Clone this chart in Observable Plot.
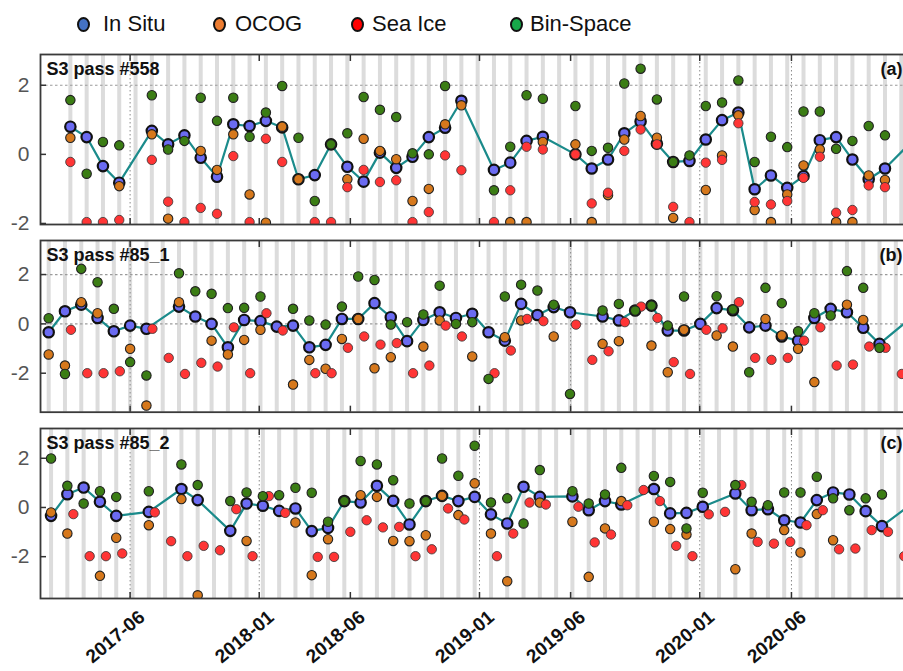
<!DOCTYPE html>
<html><head><meta charset="utf-8">
<script src="https://cdn.jsdelivr.net/npm/d3@7"></script>
<script src="https://cdn.jsdelivr.net/npm/@observablehq/plot@0.6"></script>
<style>
html,body{margin:0;padding:0;background:#fff;overflow:hidden;width:903px;height:671px;}
#wrap{position:relative;width:903px;height:671px;overflow:hidden;font-family:"Liberation Sans",Arial,sans-serif;}
.panel{position:absolute;left:0;width:920px;}
.panel svg{max-width:none !important;}
.lgm{position:absolute;top:17px;width:9px;height:11px;border:2.5px solid #111;border-radius:50%;}
.lgt{position:absolute;top:10px;font-size:22px;line-height:28px;color:#111;white-space:nowrap;}
</style></head><body><div id="wrap"></div>
<script>
// ---------- data ----------
const seriesNames = ["In Situ", "OCOG", "Sea Ice", "Bin-Space"];
const xTicks = ["2017-06-01","2018-01-01","2018-06-01","2019-01-01","2019-06-01","2020-01-01","2020-06-01"];
const xTickLabels = ["2017-06","2018-01","2018-06","2019-01","2019-06","2020-01","2020-06"];
const yTicks = [-2, 0, 2];

// pass #558 dates
const datesA = ["2017-02-22","2017-03-21","2017-04-17","2017-05-14","2017-06-10","2017-07-07","2017-08-03","2017-08-30","2017-09-26","2017-10-23",
"2017-11-19","2017-12-16","2018-01-12","2018-02-08","2018-03-07","2018-04-03","2018-04-30","2018-05-27","2018-06-23","2018-07-20",
"2018-08-16","2018-09-12","2018-10-09","2018-11-05","2018-12-02","2018-12-29","2019-01-25","2019-02-21","2019-03-20","2019-04-16",
"2019-05-13","2019-06-09","2019-07-06","2019-08-02","2019-08-29","2019-09-25","2019-10-22","2019-11-18","2019-12-15","2020-01-11",
"2020-02-07","2020-03-05","2020-04-01","2020-04-28","2020-05-25","2020-06-21","2020-07-18","2020-08-14","2020-09-10","2020-10-07",
"2020-11-03","2020-11-30","2020-12-27"];
const insituA = [0.80,0.50,-0.34,-0.82,null,0.68,0.29,0.55,-0.10,-0.65,
0.87,0.82,0.97,0.78,-0.72,-0.60,0.29,-0.36,-0.79,0.05,
-0.39,-0.07,0.50,0.77,1.55,null,-0.45,-0.24,0.39,0.51,
null,0.00,-0.41,-0.15,0.61,0.95,0.31,-0.22,-0.19,0.43,
0.99,1.21,-1.01,-0.61,-0.97,-0.63,0.41,0.50,-0.15,-0.72,
-0.41,null,0.54];
const ocogA = [0.48,null,null,-0.92,null,0.58,-1.86,null,0.10,-0.45,
0.58,-1.16,-1.98,0.80,-0.72,null,null,-0.72,0.45,0.10,
-0.14,-1.35,-1.00,0.87,1.42,null,null,-1.96,-1.96,0.36,
null,0.29,-1.96,-1.18,0.43,1.11,0.48,-1.84,null,-1.03,
-0.03,1.13,-1.61,-1.96,-1.16,-0.32,0.14,-1.96,-1.96,-0.61,
-0.74,null,null];
const seaiceA = [-0.22,-1.96,-1.96,-1.90,null,-0.16,-1.37,-1.96,-1.55,-1.72,
-0.05,-1.96,0.45,-0.22,null,-1.96,-1.96,-0.95,-0.45,-0.80,
-0.75,-1.96,-1.67,-0.03,-0.46,null,-1.96,-1.04,0.22,0.14,
null,0.00,-1.42,-1.11,0.10,0.72,0.29,-1.52,-1.96,-0.24,
-0.16,0.90,-1.38,-1.45,-1.35,-0.68,-0.07,-1.69,-1.61,-0.90,
-0.95,null,null];
const binA = [1.57,-0.56,0.36,0.26,null,1.71,0.14,0.39,1.64,0.97,
1.64,0.51,1.21,1.98,0.48,-1.35,0.29,0.61,1.66,1.29,
1.08,0.03,0.00,1.98,null,null,-1.04,0.22,1.71,1.61,
null,1.40,0.10,0.19,2.05,2.48,1.59,-0.22,-0.03,1.40,
1.50,2.14,-0.22,0.51,0.21,1.24,1.24,0.16,0.39,0.82,
0.55,null,null];

// pass #85 dates
const dates85 = ["2017-01-17","2017-02-13","2017-03-12","2017-04-08","2017-05-05","2017-06-01","2017-06-28","2017-07-25","2017-08-21","2017-09-17",
"2017-10-14","2017-11-10","2017-12-07","2018-01-03","2018-01-30","2018-02-26","2018-03-25","2018-04-21","2018-05-18","2018-06-14",
"2018-07-11","2018-08-07","2018-09-03","2018-09-30","2018-10-27","2018-11-23","2018-12-20","2019-01-16","2019-02-12","2019-03-11",
"2019-04-07","2019-05-04","2019-05-31","2019-06-27","2019-07-24","2019-08-20","2019-09-16","2019-10-13","2019-11-09","2019-12-06",
"2020-01-02","2020-01-29","2020-02-25","2020-03-23","2020-04-19","2020-05-16","2020-06-12","2020-07-09","2020-08-05","2020-09-01",
"2020-09-28","2020-10-25","2020-11-21","2020-12-18"];
const pass85_2ShiftDays = 4;
const insituB = [-0.34,0.51,0.78,0.24,-0.30,-0.07,-0.20,null,0.70,0.30,
0.00,-0.95,0.16,0.11,-0.11,-0.07,-0.95,-0.85,0.20,0.20,
0.84,0.27,-0.70,0.16,0.47,0.24,0.41,-0.34,-0.68,0.81,
0.36,0.68,0.47,null,0.30,0.14,0.54,0.74,-0.27,-0.27,
0.00,0.64,0.55,-0.14,-0.07,-0.51,-0.68,0.24,0.61,0.47,
-0.16,-0.81,null,0.28];
const ocogB = [-1.24,-1.69,0.88,0.43,null,-1.01,-3.31,null,0.88,null,
-0.68,-1.24,-0.65,-0.24,null,-2.46,-1.46,-1.82,-0.61,0.20,
-1.80,-1.35,null,-0.92,0.14,null,-1.32,null,-0.54,0.14,
null,-0.51,null,null,-0.81,-0.70,null,-0.88,-1.96,-0.24,
null,-0.47,-0.92,null,0.20,-0.47,-1.01,-2.36,null,0.78,
0.16,null,null,null];
const seaiceB = [null,-0.24,-2.00,-2.00,-1.92,null,-0.20,-1.38,-2.03,-1.58,
-1.73,-0.14,-2.00,0.43,-0.27,null,-2.00,-2.00,-0.97,-0.51,
-0.84,-0.78,-2.00,-1.69,-0.07,-0.51,null,-2.00,-1.08,0.20,
0.11,null,-0.03,-1.46,-1.11,0.07,0.70,0.24,-1.55,-2.03,
-0.24,-0.18,0.88,-1.38,-1.46,-1.38,-0.68,-0.14,-1.69,-1.65,
-0.92,-0.97,-2.03,null];
const binB = [0.23,-2.03,2.23,1.69,0.61,-1.55,-2.09,null,2.05,1.32,
1.22,0.64,0.65,1.11,null,0.61,0.14,-0.03,0.70,1.92,
1.78,-0.03,0.07,0.38,1.55,0.00,0.07,-2.23,1.11,1.59,
1.35,0.78,-2.84,null,0.54,0.81,0.54,0.74,-0.07,1.11,
null,1.12,0.58,-1.96,1.46,0.84,-0.30,0.43,0.34,2.14,
1.46,-0.97,null,null];

const insituC = [-0.34,0.54,0.81,0.23,-0.34,null,-0.18,null,0.75,0.30,
null,-0.95,0.16,0.07,-0.14,-0.04,-0.96,-0.83,0.26,0.20,
0.88,0.27,-0.69,0.26,0.47,0.26,0.43,-0.28,-0.65,0.84,
0.43,null,0.45,-0.11,0.26,0.12,null,0.75,-0.24,-0.22,
0.03,null,0.57,-0.11,-0.07,-0.52,-0.61,0.30,0.61,0.53,
-0.15,-0.76,null,0.24];
const ocogC = [-0.20,-1.06,null,-2.78,-1.23,null,-0.72,null,0.34,-3.57,
null,null,-1.36,null,null,-0.61,-2.75,-1.29,null,0.50,
0.43,-1.36,-1.37,-1.13,0.47,-0.31,0.98,-1.06,-3.00,null,
0.20,null,-0.58,-2.82,-0.85,0.26,null,-0.58,-0.88,-1.10,
null,null,-2.51,-1.06,null,-0.92,-1.83,-0.27,-1.33,null,
null,null,null,null];
const seaiceC = [null,-0.27,-1.98,-1.98,-1.87,null,-0.20,-1.37,-1.98,-1.56,
-1.74,-0.07,-1.98,0.46,-0.22,null,-2.01,-2.01,-0.99,-0.52,
-0.81,-0.79,-1.98,-1.70,-0.04,-0.49,null,-1.98,-1.06,0.20,
0.12,null,0.03,-1.42,-1.10,0.09,0.71,0.26,-1.56,-1.98,
-0.28,-0.18,0.91,-1.40,-1.47,-1.40,-0.72,-0.11,-1.70,-1.67,
-0.92,-0.99,-1.98,null];
const binC = [1.99,0.88,0.16,0.66,0.43,null,0.66,null,1.75,0.91,
null,0.26,0.61,0.46,0.50,0.80,0.60,-0.58,0.26,1.89,
1.75,1.11,0.16,0.26,1.99,1.29,2.51,0.20,0.37,-0.65,
1.52,null,0.66,0.16,0.53,1.61,null,1.28,1.04,-0.85,
0.60,null,0.91,0.23,0.09,0.61,0.61,1.25,0.37,-0.11,
0.37,0.53,null,null];

// ---------- styling ----------
const chartColors = {insitu:"#6b6bf2", ocog:"#d6781c", seaice:"#ff3535", bin:"#3b7d14"};
const legendColors = ["#4472c4", "#ed7d31", "#ff0000", "#18a84a"];
const legendMarkerX = [84, 220, 358, 517];
const legendTextX = [103, 235, 372, 530];
const FONT = "Liberation Sans, Arial, sans-serif";
const xDomain = [new Date("2017-01-03T12:00:00Z"), new Date("2020-12-18T14:24:00Z")];
const tickLabelMap = new Map(xTicks.map((d, i) => [+new Date(d), xTickLabels[i]]));

const wrap = document.getElementById("wrap");

// legend
seriesNames.forEach((name, i) => {
  const m = document.createElement("div");
  m.className = "lgm";
  m.style.left = (legendMarkerX[i] - 7) + "px";
  m.style.background = legendColors[i];
  wrap.appendChild(m);
  const t = document.createElement("div");
  t.className = "lgt";
  t.style.left = legendTextX[i] + "px";
  t.textContent = name;
  wrap.appendChild(t);
});

function panel(cfg) {
  const {dates, insitu, ocog, seaice, bin, yDomain, title, tag, top, frameH, vgrid, hgrid, seaDx, labels} = cfg;
  const rows = dates.map((d, i) => ({date: d, insitu: insitu[i], ocog: ocog[i], seaice: seaice[i], bin: bin[i]}));
  const has = k => rows.filter(r => r[k] != null);
  const mt = 6, mb = labels ? 80 : 6;
  const marks = [
    Plot.ruleX(rows, {x: "date", stroke: "#dcdcdc", strokeWidth: 4, clip: true}),
    Plot.ruleX(vgrid.map(d => new Date(d)), {stroke: "#8a8a8a", strokeDasharray: "1.5,2.5", strokeWidth: 1}),
    Plot.ruleY(hgrid, {stroke: "#9a9a9a", strokeDasharray: "2.5,2.5", strokeWidth: 1.2}),
    Plot.line(has("insitu"), {x: "date", y: "insitu", stroke: "#1b8b8b", strokeWidth: 2.2, clip: true}),
    Plot.dot(has("insitu"), {x: "date", y: "insitu", r: 5.2, fill: chartColors.insitu, stroke: "#111", strokeWidth: 2.2, clip: true}),
    Plot.dot(has("ocog"), {x: "date", y: "ocog", r: 4.7, fill: chartColors.ocog, stroke: "#222", strokeWidth: 1.1, clip: true}),
    Plot.dot(has("seaice"), {x: "date", y: "seaice", dx: seaDx, r: 4.7, fill: chartColors.seaice, stroke: "#333", strokeWidth: 0.8, clip: true}),
    Plot.dot(has("bin"), {x: "date", y: "bin", r: 4.7, fill: chartColors.bin, stroke: "#222", strokeWidth: 1.1, clip: true}),
    Plot.frame({stroke: "#3a3a3a", strokeWidth: 1.8}),
    Plot.axisY(yTicks, {anchor: "left", tickSize: 0, tickPadding: 11, fontSize: 21, color: "#555", tickFormat: d => String(d)}),
    Plot.axisY(yTicks, {anchor: "left", tickSize: 6, dx: 6, tickFormat: () => "", stroke: "#333", strokeWidth: 1.5}),
    Plot.axisX(xTicks.map(d => new Date(d)), {anchor: "bottom", tickSize: 6, dy: -6, tickFormat: () => "", stroke: "#333", strokeWidth: 1.5}),
    Plot.axisX(xTicks.map(d => new Date(d)), {anchor: "top", tickSize: 6, dy: 6, tickFormat: () => "", stroke: "#333", strokeWidth: 1.5}),
    Plot.text([title], {frameAnchor: "top-left", dx: 6, dy: 8, text: d => d, fontSize: 18, fontWeight: "bold", textAnchor: "start", lineAnchor: "top", fill: "#111"}),
    Plot.text([tag], {frameAnchor: "top-right", dx: -10, dy: 8, text: d => d, fontSize: 18, fontWeight: "bold", textAnchor: "end", lineAnchor: "top", fill: "#111"})
  ];
  if (labels) {
    marks.push(Plot.axisX(xTicks.map(d => new Date(d)), {anchor: "bottom", tickSize: 0, tickPadding: 16, dx: 12, tickRotate: -40, fontSize: 19, fontWeight: "bold", fill: "#111", tickFormat: d => tickLabelMap.get(+d)}));
  }
  const chart = Plot.plot({
    width: 920, height: frameH + mt + mb,
    marginLeft: 40, marginRight: 8, marginTop: mt, marginBottom: mb,
    x: {type: "utc", domain: xDomain, axis: null},
    y: {domain: yDomain, axis: null},
    style: {fontFamily: FONT, background: "transparent", overflow: "visible", maxWidth: "none"},
    marks
  });
  chart.style.maxWidth = "none";
  const holder = document.createElement("div");
  holder.className = "panel";
  holder.style.top = (top - mt) + "px";
  holder.appendChild(chart);
  wrap.appendChild(holder);
}

const parse = arr => arr.map(d => new Date(d + "T00:00:00Z"));
const d85 = parse(dates85);

panel({dates: parse(datesA), insitu: insituA, ocog: ocogA, seaice: seaiceA, bin: binA,
  yDomain: [-2.03, 2.89], title: "S3 pass #558", tag: "(a)", top: 54, frameH: 170,
  vgrid: ["2017-06-01", "2020-01-01", "2020-06-01"], hgrid: [2], seaDx: 0, labels: false});
panel({dates: d85, insitu: insituB, ocog: ocogB, seaice: seaiceB, bin: binB,
  yDomain: [-3.58, 3.38], title: "S3 pass #85_1", tag: "(b)", top: 240, frameH: 171.7,
  vgrid: ["2017-06-01", "2019-06-01", "2020-01-01"], hgrid: [2, 0], seaDx: 6, labels: false});
panel({dates: d85.map(d => d3.utcDay.offset(d, pass85_2ShiftDays)), insitu: insituC, ocog: ocogC, seaice: seaiceC, bin: binC,
  yDomain: [-3.70, 3.21], title: "S3 pass #85_2", tag: "(c)", top: 428.3, frameH: 170,
  vgrid: ["2017-06-01", "2018-01-01", "2019-01-01", "2020-01-01", "2020-06-01"], hgrid: [], seaDx: 6, labels: true});
</script></body></html>
